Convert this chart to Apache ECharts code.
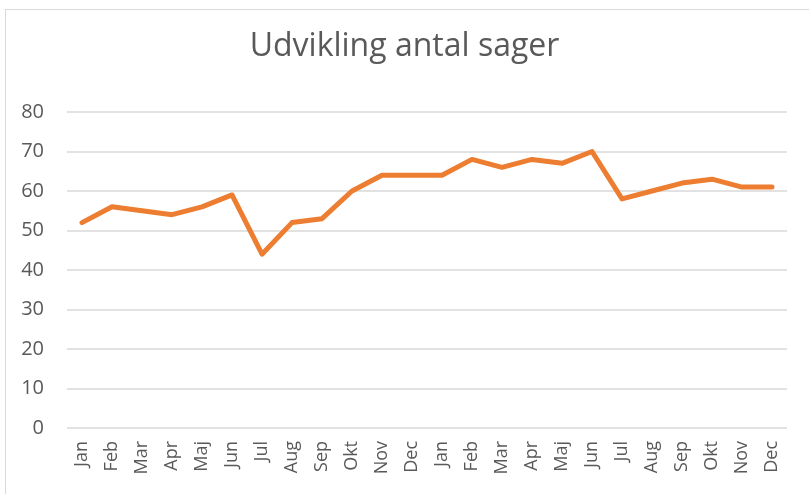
<!DOCTYPE html>
<html>
<head>
<meta charset="utf-8">
<script src="https://cdn.jsdelivr.net/npm/echarts@6/dist/echarts.min.js"></script>
<style>
  html, body { margin: 0; padding: 0; background: #fff; }
  #frame {
    position: absolute; left: 5px; top: 9px; width: 820px; height: 500px;
    border: 1px solid #d9d9d9; box-sizing: border-box;
  }
  #echart { position: absolute; left: 0; top: 0; width: 809px; height: 494px; }
</style>
</head>
<body>
<div id="frame"></div>
<div id="echart"></div>
<script>
// måneder, to år i træk
var categories = ["Jan", "Feb", "Mar", "Apr", "Maj", "Jun", "Jul", "Aug", "Sep", "Okt", "Nov", "Dec",
                  "Jan", "Feb", "Mar", "Apr", "Maj", "Jun", "Jul", "Aug", "Sep", "Okt", "Nov", "Dec"];
var sager = [52, 56, 55, 54, 56, 59, 44, 52, 53, 60, 64, 64,
             64, 68, 66, 68, 67, 70, 58, 60, 62, 63, 61, 61];
var yTicks = [0, 10, 20, 30, 40, 50, 60, 70, 80];

var chart = echarts.init(document.getElementById("echart"));
chart.setOption({
  animation: false,
  title: {
    text: "Udvikling antal sager",
    left: "center",
    top: 26,
    textStyle: {
      fontFamily: "Open Sans",
      fontWeight: "normal",
      fontSize: 32,
      color: "#595959",
    },
  },
  grid: { left: 67, right: 22, top: 112, bottom: 66 },
  xAxis: {
    type: "category",
    data: categories,
    boundaryGap: true,
    axisLine: { show: false },
    axisTick: { show: false },
    axisLabel: {
      interval: 0,
      rotate: 90,
      margin: 13,
      color: "#595959",
      fontSize: 18,
      fontFamily: "Open Sans",
    },
  },
  yAxis: {
    type: "value",
    min: yTicks[0],
    max: yTicks[yTicks.length - 1],
    interval: 10,
    axisLine: { show: false },
    axisTick: { show: false },
    axisLabel: {
      margin: 23,
      color: "#595959",
      fontSize: 20,
      fontFamily: "Open Sans",
    },
    splitLine: { lineStyle: { color: "#d9d9d9", width: 1.5 } },
  },
  series: [
    {
      type: "line",
      data: sager,
      symbol: "none",
      lineStyle: { color: "#ed7d31", width: 5, cap: "round", join: "round" },
    },
  ],
});
</script>
</body>
</html>
